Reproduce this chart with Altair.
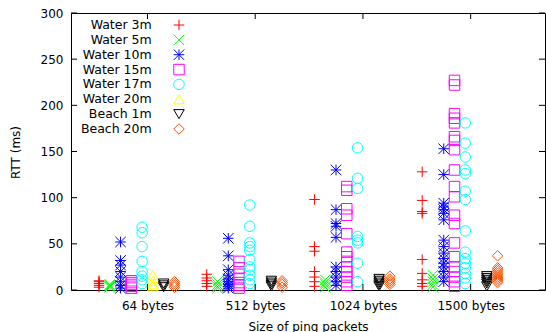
import json
import altair as alt
import pandas as pd

# ---- data -------------------------------------------------------------
series = ["Water 3m", "Water 5m", "Water 10m", "Water 15m",
          "Water 17m", "Water 20m", "Beach 1m", "Beach 20m"]
tick_labels = ["64 bytes", "512 bytes", "1024 bytes", "1500 bytes"]
y_ticks = [0, 50, 100, 150, 200, 250, 300]

# RTT samples (ms) per series, one list per packet size
water_3m = [[3, 5, 7, 9, 10],
            [4, 7, 10, 13, 17],
            [4, 9, 14, 20, 42, 47, 98],
            [4, 7, 11, 18, 33, 83, 85, 97, 128]]
water_5m = [[3, 4, 5, 6],
            [2, 4, 6, 9],
            [3, 6, 8, 11],
            [3, 6, 9, 12, 16]]
water_10m = [[2, 5, 9, 14, 20, 27, 32, 52],
             [2, 4, 6, 9, 12, 16, 22, 37, 56],
             [5, 9, 14, 20, 25, 57, 69, 72, 87, 130],
             [9, 14, 20, 25, 29, 34, 40, 47, 54, 76, 83, 87, 90, 94, 125, 153]]
water_15m = [[2, 4, 6, 8, 10],
             [2, 5, 8, 12, 17, 24, 31],
             [5, 9, 14, 20, 25, 31, 36, 41, 61, 81, 88, 108, 112],
             [4, 9, 14, 20, 25, 36, 51, 72, 81, 101, 112, 130, 152, 162, 166,
              181, 186, 191, 222, 227]]
water_17m = [[7, 11, 15, 20, 31, 47, 62, 68],
             [7, 11, 16, 22, 25, 33, 43, 47, 51, 69, 92],
             [9, 29, 51, 54, 58, 110, 121, 154],
             [7, 13, 18, 24, 29, 34, 41, 64, 98, 107, 126, 130, 144, 159, 181]]
water_20m = [[4, 6, 10, 16], [], [], []]
beach_1m = [[3, 5, 7],
            [4, 6, 8, 10],
            [4, 6, 8, 10, 12],
            [4, 7, 9, 11, 13, 15]]
beach_20m = [[3, 5, 7, 9],
             [3, 6, 8, 10],
             [6, 8, 10, 12, 15],
             [8, 10, 12, 14, 16, 18, 20, 22, 24, 37]]

all_values = [water_3m, water_5m, water_10m, water_15m,
              water_17m, water_20m, beach_1m, beach_20m]

# ---- styles -----------------------------------------------------------
colors = ["#ff0000", "#00ff00", "#0000ff", "#ff00ff",
          "#00ffff", "#ffff00", "#000000", "#ff5000"]
PLUS = "M-1,0L1,0M0,-1L0,1"
XCROSS = "M-1,-1L1,1M-1,1L1,-1"
STAR = "M-1,0L1,0M0,-1L0,1M-1,-1L1,1M-1,1L1,-1"
shapes = [PLUS, XCROSS, STAR, "square", "circle",
          "triangle-up", "triangle-down", "diamond"]

rows = []
for si, (name, groups) in enumerate(zip(series, all_values)):
    for gi, vals in enumerate(groups):
        for v in vals:
            rows.append({"series": name,
                         "pos": gi + 1 + (si - 4.5) * 0.1,
                         "rtt": v})
df = pd.DataFrame(rows)

W, H = 474, 277
FONT = "DejaVu Sans"

x_scale = alt.Scale(domain=[0.29, 4.69], nice=False, zero=False)
y_scale = alt.Scale(domain=[0, 300], nice=False)
color_scale = alt.Scale(domain=series, range=colors)
shape_scale = alt.Scale(domain=series, range=shapes)

label_expr = json.dumps(tick_labels) + "[datum.value - 1]"

points = alt.Chart(df).mark_point(
    filled=False, strokeWidth=1, size=110, opacity=1
).encode(
    x=alt.X("pos:Q", scale=x_scale,
            axis=alt.Axis(values=[1, 2, 3, 4], labelExpr=label_expr,
                          title="Size of ping packets", grid=False,
                          ticks=False, tickSize=0, domain=False,
                          labelBaseline="alphabetic", labelPadding=19,
                          titleY=40, titleBaseline="alphabetic")),
    y=alt.Y("rtt:Q", scale=y_scale,
            axis=alt.Axis(values=y_ticks, title="RTT (ms)", grid=False,
                          ticks=False, tickSize=0, domain=False,
                          labelPadding=8, titleX=-56, titleY=139,
                          titleAlign="center", titleBaseline="middle")),
    color=alt.Color("series:N", scale=color_scale, legend=None),
    shape=alt.Shape("series:N", scale=shape_scale, legend=None),
)

yt = pd.DataFrame({"v": y_ticks})
xt = pd.DataFrame({"v": [1, 2, 3, 4]})

ytick_left = alt.Chart(yt).mark_rule(color="black", strokeWidth=1).encode(
    y=alt.Y("v:Q", scale=y_scale, axis=None),
    x=alt.value(0), x2=alt.value(6))
ytick_right = alt.Chart(yt).mark_rule(color="black", strokeWidth=1).encode(
    y=alt.Y("v:Q", scale=y_scale, axis=None),
    x=alt.value(W - 6), x2=alt.value(W))
xtick_bottom = alt.Chart(xt).mark_rule(color="black", strokeWidth=1).encode(
    x=alt.X("v:Q", scale=x_scale, axis=None),
    y=alt.value(H), y2=alt.value(H - 6))
xtick_top = alt.Chart(xt).mark_rule(color="black", strokeWidth=1).encode(
    x=alt.X("v:Q", scale=x_scale, axis=None),
    y=alt.value(0), y2=alt.value(6))

leg_df = pd.DataFrame({"series": series})
leg_y = alt.Y("series:N", sort=series,
              scale=alt.Scale(type="point", range=[12, 116], padding=0),
              axis=None)
leg_text = alt.Chart(leg_df).mark_text(
    align="right", baseline="middle", fontSize=12.5, font=FONT, color="black"
).encode(text="series:N", x=alt.value(80.7), y=leg_y)
leg_sym = alt.Chart(leg_df).mark_point(
    filled=False, strokeWidth=1, size=110, opacity=1
).encode(
    x=alt.value(108), y=leg_y,
    color=alt.Color("series:N", scale=color_scale, legend=None),
    shape=alt.Shape("series:N", scale=shape_scale, legend=None),
)

chart = alt.layer(
    points, ytick_left, ytick_right, xtick_bottom, xtick_top,
    leg_text, leg_sym
).resolve_scale(x="independent", y="independent").properties(
    width=W, height=H,
    autosize=alt.AutoSizeParams(type="none"),
    padding={"left": 71, "top": 13, "right": 1, "bottom": 42},
).configure(font=FONT).configure_view(
    stroke="black", strokeWidth=1
).configure_axis(
    labelFont=FONT, labelFontSize=12, labelColor="black",
    titleFont=FONT, titleFontSize=12, titleFontWeight="normal",
    titleColor="black",
)

chart.save("out.html", embed_options={"renderer": "svg", "actions": False})
